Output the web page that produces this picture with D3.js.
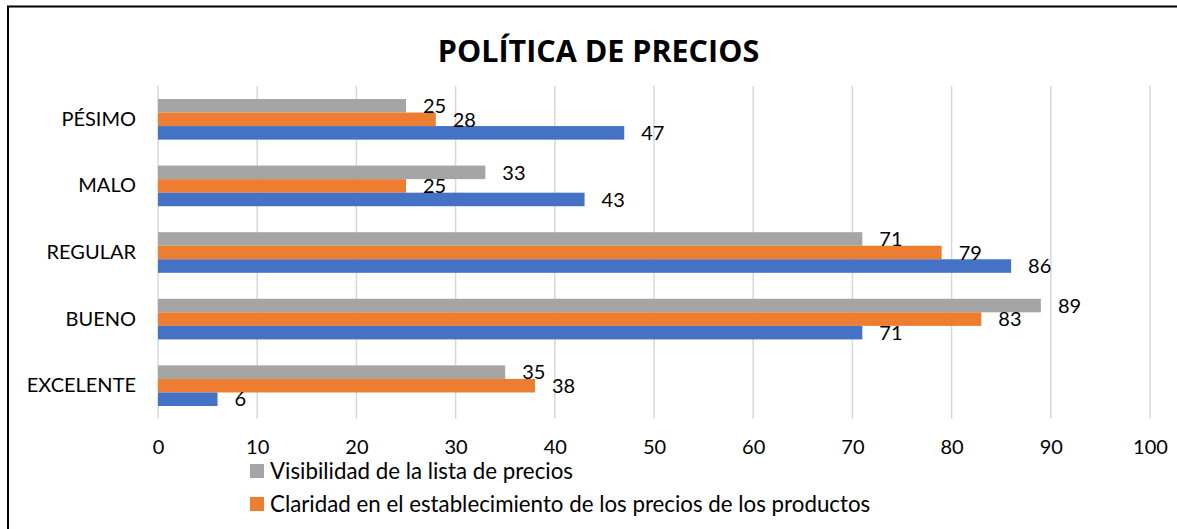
<!DOCTYPE html>
<html>
<head>
<meta charset="utf-8">
<script src="https://cdn.jsdelivr.net/npm/d3@7"></script>
<style>
  html, body { margin: 0; padding: 0; background: #fff; }
  svg { display: block; font-family: Lato, "Noto Sans", sans-serif; }
</style>
</head>
<body>
<svg id="chart" width="1177" height="529"></svg>
<script>
const title = "POLÍTICA DE PRECIOS";
const categories = ["PÉSIMO", "MALO", "REGULAR", "BUENO", "EXCELENTE"];
const seriesNames = ["Visibilidad de la lista de precios",
                     "Claridad en el establecimiento de los precios de los productos",
                     ""];
const visibilidad = [25, 33, 71, 89, 35];
const claridad = [28, 25, 79, 83, 38];
const tercera = [47, 43, 86, 71, 6];
const tickValues = [0, 10, 20, 30, 40, 50, 60, 70, 80, 90, 100];
const colors = ["#A5A5A5", "#ED7D31", "#4472C4"];

const seriesData = [visibilidad, claridad, tercera];

const svg = d3.select("#chart");

// outer border (chart area frame)
svg.append("rect")
  .attr("x", 8).attr("y", 6.5)
  .attr("width", 1200).attr("height", 600)
  .attr("fill", "#fff").attr("stroke", "#000").attr("stroke-width", 2);

const plot = {left: 158, right: 1150, top: 86, bottom: 419};

const x = d3.scaleLinear().domain([0, 100]).range([plot.left, plot.right]);
const y = d3.scaleBand().domain(categories).range([plot.top, plot.bottom]).paddingInner(0.39).paddingOuter(0.195);
const ySub = d3.scaleBand().domain(d3.range(seriesData.length)).range([0, y.bandwidth()]);

// gridlines
svg.append("g").selectAll("line").data(tickValues).join("line")
  .attr("x1", d => x(d)).attr("x2", d => x(d))
  .attr("y1", plot.top).attr("y2", plot.bottom)
  .attr("stroke", "#d9d9d9").attr("stroke-width", 1.5);

// x axis labels via d3 axis
const xAxis = d3.axisBottom(x).tickValues(tickValues).tickSize(0).tickPadding(0).tickFormat(d3.format("d"));
const gx = svg.append("g").attr("transform", `translate(0, ${plot.bottom + 21})`).call(xAxis);
gx.select(".domain").remove();
gx.selectAll("text").attr("font-size", 20).attr("fill", "#000").attr("font-family", "Lato, 'Noto Sans', sans-serif");

// y axis labels
const yAxis = d3.axisLeft(y).tickSize(0).tickPadding(0);
const gy = svg.append("g").attr("transform", `translate(${plot.left - 22}, 0)`).call(yAxis);
gy.select(".domain").remove();
gy.selectAll("text").attr("font-size", 20).attr("fill", "#000").attr("font-family", "Lato, 'Noto Sans', sans-serif");

// bars
const rows = [];
categories.forEach((c, i) => {
  seriesData.forEach((s, j) => rows.push({cat: c, s: j, v: s[i]}));
});

svg.append("g").selectAll("rect").data(rows).join("rect")
  .attr("x", x(0))
  .attr("y", d => y(d.cat) + ySub(d.s))
  .attr("width", d => x(d.v) - x(0))
  .attr("height", ySub.bandwidth())
  .attr("fill", d => colors[d.s]);

// value labels
svg.append("g").selectAll("text").data(rows).join("text")
  .attr("x", d => x(d.v) + 17)
  .attr("y", d => y(d.cat) + ySub(d.s) + ySub.bandwidth() / 2)
  .attr("dy", "0.36em")
  .attr("font-size", 20)
  .attr("fill", "#000")
  .text(d => d.v);

// title
svg.append("text")
  .attr("x", 598.5).attr("y", 62)
  .attr("text-anchor", "middle")
  .attr("font-family", "'Open Sans', Lato, sans-serif")
  .attr("font-size", 30.5)
  .attr("font-weight", "bold")
  .attr("fill", "#000")
  .text(title);

// legend (third entry is cut off by the frame in the reference)
const legend = svg.append("g");
[0, 1, 2].forEach((j, k) => {
  const ly = 464 + k * 33;
  legend.append("rect").attr("x", 250).attr("y", ly).attr("width", 14).attr("height", 14).attr("fill", colors[j]);
  legend.append("text").attr("x", 270).attr("y", ly + 7).attr("dy", "0.36em")
    .attr("font-size", 22.3).attr("fill", "#000").text(seriesNames[j]);
});
</script>
</body>
</html>
